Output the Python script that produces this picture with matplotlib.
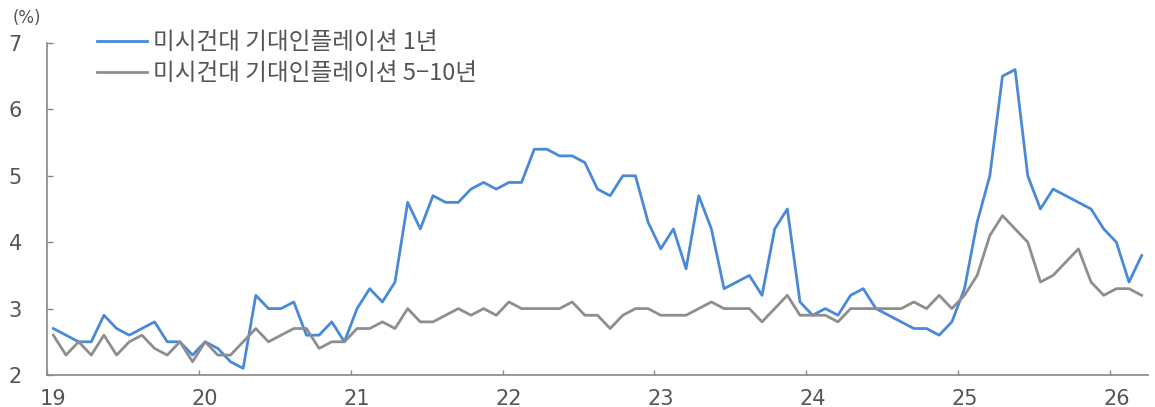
import matplotlib.pyplot as plt
import numpy as np

plt.rcParams['font.family'] = ['Noto Sans CJK KR', 'DejaVu Sans']

# Monthly values, Jan 2019 - Mar 2026 (%)
exp_1y = [2.7, 2.6, 2.5, 2.5, 2.9, 2.7, 2.6, 2.7, 2.8, 2.5, 2.5, 2.3,
          2.5, 2.4, 2.2, 2.1, 3.2, 3.0, 3.0, 3.1, 2.6, 2.6, 2.8, 2.5,
          3.0, 3.3, 3.1, 3.4, 4.6, 4.2, 4.7, 4.6, 4.6, 4.8, 4.9, 4.8,
          4.9, 4.9, 5.4, 5.4, 5.3, 5.3, 5.2, 4.8, 4.7, 5.0, 5.0, 4.3,
          3.9, 4.2, 3.6, 4.7, 4.2, 3.3, 3.4, 3.5, 3.2, 4.2, 4.5, 3.1,
          2.9, 3.0, 2.9, 3.2, 3.3, 3.0, 2.9, 2.8, 2.7, 2.7, 2.6, 2.8,
          3.3, 4.3, 5.0, 6.5, 6.6, 5.0, 4.5, 4.8, 4.7, 4.6, 4.5, 4.2,
          4.0, 3.4, 3.8]
exp_5_10y = [2.6, 2.3, 2.5, 2.3, 2.6, 2.3, 2.5, 2.6, 2.4, 2.3, 2.5, 2.2,
             2.5, 2.3, 2.3, 2.5, 2.7, 2.5, 2.6, 2.7, 2.7, 2.4, 2.5, 2.5,
             2.7, 2.7, 2.8, 2.7, 3.0, 2.8, 2.8, 2.9, 3.0, 2.9, 3.0, 2.9,
             3.1, 3.0, 3.0, 3.0, 3.0, 3.1, 2.9, 2.9, 2.7, 2.9, 3.0, 3.0,
             2.9, 2.9, 2.9, 3.0, 3.1, 3.0, 3.0, 3.0, 2.8, 3.0, 3.2, 2.9,
             2.9, 2.9, 2.8, 3.0, 3.0, 3.0, 3.0, 3.0, 3.1, 3.0, 3.2, 3.0,
             3.2, 3.5, 4.1, 4.4, 4.2, 4.0, 3.4, 3.5, 3.7, 3.9, 3.4, 3.2,
             3.3, 3.3, 3.2]
year_labels = ['19', '20', '21', '22', '23', '24', '25', '26']
y_ticks = [2, 3, 4, 5, 6, 7]

months = np.arange(len(exp_1y))
W, H = 1155, 407
fig = plt.figure(figsize=(W / 100, H / 100), dpi=100)
ax = fig.add_axes([47 / W, (H - 375) / H, (1148 - 47) / W, (375 - 43) / H])

ax.plot(months, exp_1y, color='#4a89d8', lw=2.0, label='미시건대 기대인플레이션 1년')
ax.plot(months, exp_5_10y, color='#8e8e8e', lw=2.0, label='미시건대 기대인플레이션 5−10년')

ax.set_xlim(-0.5, 86.5)
ax.set_ylim(2, 7)
ax.set_yticks(y_ticks)

# year labels sit on January, tick marks on the boundary before it
jan = np.arange(len(year_labels)) * 12
ax.set_xticks(jan)
ax.set_xticklabels(year_labels)
ax.set_xticks(jan - 0.5, minor=True)
ax.tick_params(axis='x', which='major', length=0, pad=10, labelsize=15, labelcolor='#555555')
ax.tick_params(axis='x', which='minor', direction='in', length=3.5, width=1, color='#888888')
ax.tick_params(axis='y', direction='in', length=4.5, width=1, color='#888888',
               pad=18, labelsize=15, labelcolor='#555555')
for lab in ax.get_xticklabels() + ax.get_yticklabels():
    lab.set_family('DejaVu Sans')

for side in ['top', 'right']:
    ax.spines[side].set_visible(False)
for side in ['left', 'bottom']:
    ax.spines[side].set_color('#888888')
    ax.spines[side].set_linewidth(1.2)

fig.text(13 / W, 1 - 18 / H, '(%)', fontsize=12, color='#555555', va='center',
         family='DejaVu Sans')

ax.legend(loc='upper left', bbox_to_anchor=(40.6 / (1148 - 47), 1.064), frameon=False,
          fontsize=17, handlelength=2.1, handletextpad=0.25, labelspacing=0.35,
          borderaxespad=0, labelcolor='#555555')

fig.savefig('out.png', dpi=100)
